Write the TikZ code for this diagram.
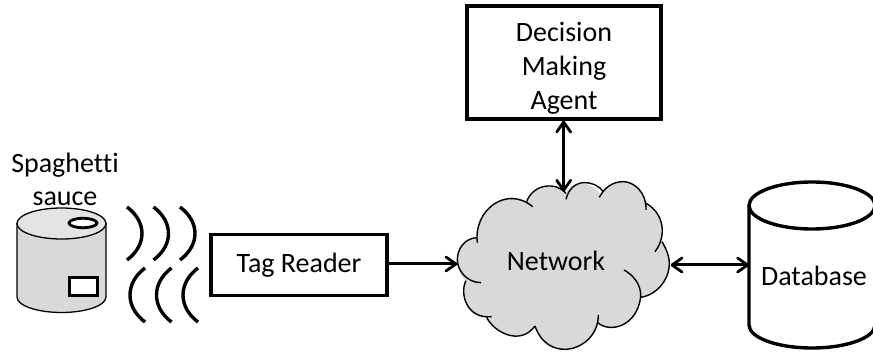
\documentclass[tikz,border=0pt]{standalone}
\usepackage{fontspec}
\setmainfont{Carlito}[Ligatures=NoCommon]
\usetikzlibrary{arrows.meta}
\definecolor{fillgray}{HTML}{D9D9D9}
\tikzset{
  lbl/.style={font=\fontsize{28}{34}\selectfont,inner sep=0pt,align=center,text=black},
  boxnode/.style={draw=black,line width=3.4pt,inner sep=0pt},
  barbtip/.tip={Straight Barb[length=10pt,width=14pt,line width=2.8pt,round]},
  conn/.style={line width=3pt,-barbtip},
  bothconn/.style={line width=3pt,barbtip-barbtip},
  wave/.style={line width=3.4pt},
  canline/.style={draw=black,line width=1.3pt},
  cloudline/.style={line width=1.4pt},
}
\begin{document}
\begin{tikzpicture}[x=1pt,y=-1pt]
\useasboundingbox (0,0) rectangle (873,352);
% can
\path[fill=fillgray,canline] (17,223.5) -- (17,297) arc[x radius=44.5,y radius=15.5,start angle=180,end angle=0] -- (106,223.5) -- cycle;
\draw[canline,fill=fillgray!70] (61.5,223.5) ellipse[x radius=44.5,y radius=15.5];
\draw[fill=white,line width=2.8pt] (83,223) ellipse[x radius=14,y radius=4.7];
\draw[fill=white,line width=3pt] (69,277.5) rectangle (97,296);
\node[lbl] (can) at (65,179) {Spaghetti\\[-1pt]sauce};
% waves
\foreach \dx in {0,26.5,53}{
  \draw[wave] (127+\dx,207) .. controls (147+\dx,222) and (147+\dx,245) .. (127+\dx,260);
  \draw[wave] (145+\dx,268) .. controls (125+\dx,283) and (125+\dx,307) .. (145+\dx,322);
}
% boxes
\node[boxnode,minimum width=176pt,minimum height=60.5pt,lbl] (tag) at (299,265) {Tag Reader};
\node[boxnode,minimum width=194pt,minimum height=113pt,lbl] (agent) at (564,62.5) {\rule{0pt}{30pt}Decision\\Making\\Agent};
% cloud
\begin{scope}[shift={(430,160)},x=0.3333pt,y=-0.3333pt]
\fill[fillgray] (140,233) .. controls (105,235) and (82,265) .. (82,300) .. controls (82,330) and (95,355) .. (108,362) .. controls (88,400) and (110,478) .. (170,472) .. controls (190,515) and (270,560) .. (315,498) .. controls (335,555) and (375,568) .. (405,568) .. controls (450,568) and (500,530) .. (503,488) .. controls (540,520) and (620,500) .. (632,412) .. controls (680,405) and (718,360) .. (718,310) .. controls (718,285) and (705,260) .. (696,245) .. controls (705,195) and (680,145) .. (645,128) .. controls (645,90) and (610,65) .. (580,65) .. controls (550,65) and (525,80) .. (512,105) .. controls (495,70) and (430,50) .. (408,100) .. controls (380,65) and (310,70) .. (290,125) .. controls (220,85) and (135,150) .. (140,233) -- cycle;
\draw[cloudline] (140,233) .. controls (105,235) and (82,265) .. (82,300) .. controls (82,330) and (110,368) .. (153,368);
\draw[cloudline] (108,362) .. controls (88,400) and (110,478) .. (185,470);
\draw[cloudline] (170,472) .. controls (190,515) and (270,560) .. (315,498);
\draw[cloudline] (315,498) .. controls (335,555) and (375,568) .. (405,568) .. controls (450,568) and (505,530) .. (505,465);
\draw[cloudline] (503,488) .. controls (540,520) and (620,500) .. (632,412) .. controls (635,375) and (610,345) .. (582,330);
\draw[cloudline] (632,412) .. controls (680,405) and (718,360) .. (718,310) .. controls (718,285) and (705,260) .. (696,245);
\draw[cloudline] (675,275) .. controls (710,230) and (705,160) .. (645,128);
\draw[cloudline] (648,150) .. controls (650,95) and (610,65) .. (580,65) .. controls (550,65) and (525,80) .. (508,112);
\draw[cloudline] (520,95) .. controls (495,60) and (425,50) .. (408,118);
\draw[cloudline] (408,100) .. controls (380,65) and (310,70) .. (290,125);
\draw[cloudline] (308,140) .. controls (230,75) and (130,150) .. (142,248);
\coordinate (netW) at (82,312);
\coordinate (netN) at (401,95);
\coordinate (netE) at (722,315);
\end{scope}
\node[lbl,anchor=base] (net) at (556,271) {Network};
% database
\draw[fill=white,line width=3.4pt] (749,205.5) -- (749,325) arc[x radius=63,y radius=23,start angle=180,end angle=0] -- (875,205.5) arc[x radius=63,y radius=23.5,start angle=0,end angle=-180] -- cycle;
\draw[line width=3.4pt] (749,205.5) arc[x radius=63,y radius=23.5,start angle=180,end angle=0];
\coordinate (dbW) at (749,265);
\node[lbl,anchor=base] (db) at (814,286) {Database};
% connectors
\draw[conn] (tag.east |- netW) -- (netW);
\draw[bothconn] (agent.south -| netN) -- (netN);
\draw[bothconn] (netE) -- (dbW |- netE);
\end{tikzpicture}
\end{document}
